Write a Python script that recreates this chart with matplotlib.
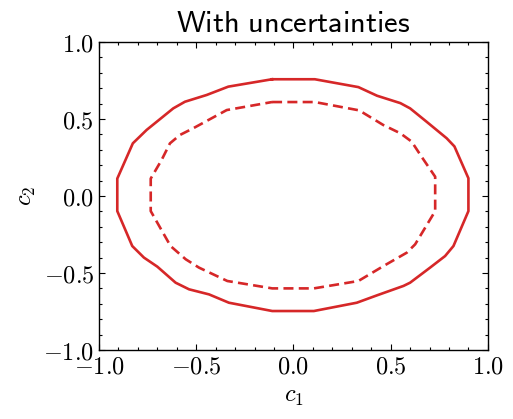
import matplotlib
matplotlib.use("Agg")
import matplotlib.pyplot as plt
from matplotlib.ticker import MultipleLocator, FuncFormatter

# contour vertices, closed loops going clockwise from the top
outer_x = [-0.11, 0.11, 0.334, 0.43, 0.55, 0.60, 0.685, 0.788, 0.828, 0.90,
           0.90, 0.823, 0.78, 0.703, 0.60, 0.566, 0.43, 0.326, 0.105,
           -0.109, -0.332, -0.434, -0.537, -0.606, -0.70, -0.769, -0.829, -0.906,
           -0.906, -0.826, -0.755, -0.618, -0.558, -0.446, -0.335, -0.11]
outer_y = [0.758, 0.758, 0.707, 0.651, 0.603, 0.569, 0.482, 0.375, 0.322, 0.115,
           -0.098, -0.325, -0.39, -0.465, -0.563, -0.584, -0.645, -0.693, -0.747,
           -0.747, -0.693, -0.639, -0.606, -0.563, -0.459, -0.40, -0.325, -0.098,
           0.113, 0.342, 0.429, 0.569, 0.612, 0.656, 0.71, 0.758]

inner_x = [-0.11, 0.11, 0.338, 0.462, 0.55, 0.608, 0.659, 0.729,
           0.729, 0.626, 0.583, 0.463, 0.334, 0.105,
           -0.109, -0.340, -0.486, -0.554, -0.632, -0.734,
           -0.734, -0.678, -0.635, -0.584, -0.515, -0.343, -0.11]
inner_y = [0.61, 0.61, 0.556, 0.461, 0.407, 0.353, 0.255, 0.125,
           -0.098, -0.314, -0.368, -0.455, -0.552, -0.60,
           -0.60, -0.552, -0.465, -0.411, -0.325, -0.098,
           0.113, 0.234, 0.342, 0.396, 0.44, 0.558, 0.61]

plt.rcParams['mathtext.fontset'] = 'cm'

fig = plt.figure(figsize=(5.13, 4.19), dpi=100)
ax = fig.add_axes([0.193, 0.1647, 0.758, 0.7351])

red = '#d62728'
ax.plot(outer_x, outer_y, color=red, lw=1.9)
ax.plot(inner_x, inner_y, color=red, lw=1.9, ls=(0, (3.8, 2.0)))

ax.set_xlim(-1, 1)
ax.set_ylim(-1, 1)
ax.xaxis.set_major_locator(MultipleLocator(0.5))
ax.yaxis.set_major_locator(MultipleLocator(0.5))
ax.xaxis.set_minor_locator(MultipleLocator(0.1))
ax.yaxis.set_minor_locator(MultipleLocator(0.1))
fmt = FuncFormatter(lambda v, p: r'$%.1f$' % v if abs(v) > 1e-9 else r'$0.0$')
ax.xaxis.set_major_formatter(fmt)
ax.yaxis.set_major_formatter(fmt)
ax.tick_params(which='both', direction='in', top=True, right=True, width=0.8, labelsize=17.5)
ax.tick_params(which='major', length=4)
ax.tick_params(which='minor', length=2.2)
for s in ax.spines.values():
    s.set_linewidth(1.0)

ax.set_xlabel(r'$c_1$', fontsize=17.5)
ax.set_ylabel(r'$c_2$', fontsize=17.5)
ax.set_title(r'$\mathsf{With\ uncertainties}$', fontsize=22, pad=7)

fig.savefig('out.png', dpi=100)
